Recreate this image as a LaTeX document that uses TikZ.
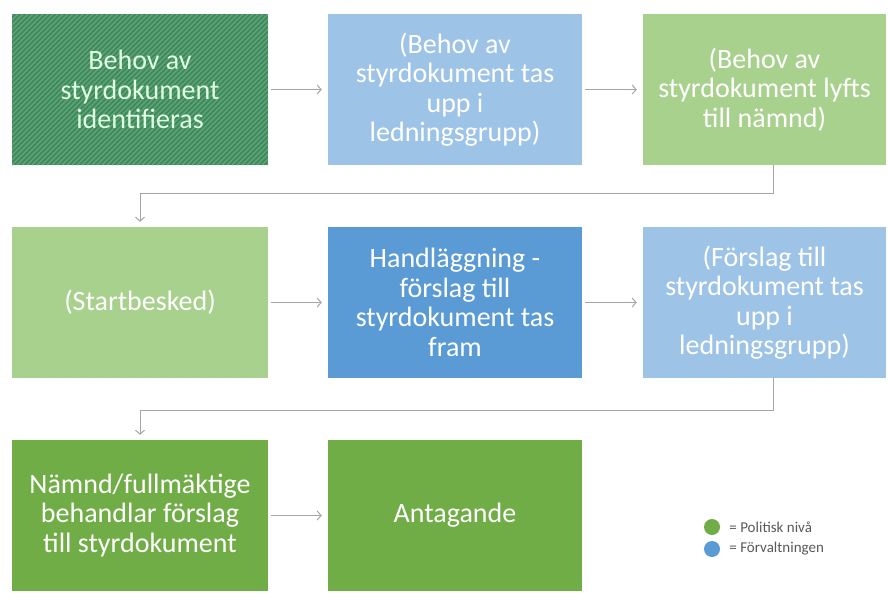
\documentclass[tikz,border=0pt]{standalone}
\usepackage{fontspec}
\setmainfont{Carlito}
\usetikzlibrary{arrows.meta}
\definecolor{dkgreen}{HTML}{3E8A5B}
\definecolor{hatchgreen}{HTML}{63A67B}
\definecolor{ltblue}{HTML}{9DC3E6}
\definecolor{ltgreen}{HTML}{A9D18E}
\definecolor{midblue}{HTML}{5B9BD5}
\definecolor{polgreen}{HTML}{70AD47}
\definecolor{conncol}{HTML}{A6A6A6}
\definecolor{legtext}{HTML}{595959}
\begin{document}
\begin{tikzpicture}[x=1pt,y=-1pt,
  box/.style={rectangle, inner sep=0pt, minimum height=151pt, align=center,
    text=white, font=\fontsize{28}{29.5}\selectfont},
  arr/.style={draw=conncol, line width=1pt, -{Straight Barb[length=4pt,width=9pt]}},
  conn/.style={draw=conncol, line width=1pt},
  legdot/.style={circle, inner sep=0pt, minimum size=16pt},
  legtxt/.style={anchor=west, inner sep=0pt, text=legtext, font=\fontsize{15}{17}\selectfont}]
\useasboundingbox (0,0) rectangle (888,592);
\fill[white] (0,0) rectangle (888,592);
% row 1
\node[box, minimum width=256pt, fill=dkgreen, text=white!88!green,
  path picture={\foreach \k in {-170,-165,...,260}
    \draw[hatchgreen, line width=1.2pt] ([xshift=\k pt]path picture bounding box.south west) -- ++(170pt,170pt);}]
  (b1) at (140,89.5) {Behov av\\styrdokument\\identifieras};
\node[box, minimum width=254pt, fill=ltblue] (b2) at (455,89.5) {(Behov av\\styrdokument tas\\upp i\\ledningsgrupp)};
\node[box, minimum width=243pt, fill=ltgreen] (b3) at (764.5,89.5) {(Behov av\\styrdokument lyfts\\till nämnd)};
% row 2
\node[box, minimum width=256pt, fill=ltgreen] (b4) at (140,302.5) {(Startbesked)};
\node[box, minimum width=254pt, fill=midblue] (b5) at (455,302.5) {Handläggning -\\förslag till\\styrdokument tas\\fram};
\node[box, minimum width=243pt, fill=ltblue] (b6) at (764.5,302.5) {(Förslag till\\styrdokument tas\\upp i\\ledningsgrupp)};
% row 3
\node[box, minimum width=256pt, fill=polgreen] (b7) at (140,515.5) {Nämnd/fullmäktige\\behandlar förslag\\till styrdokument};
\node[box, minimum width=254pt, fill=polgreen] (b8) at (455,515.5) {Antagande};
% connectors
\draw[arr, shorten <=3pt, shorten >=6pt] (b1) -- (b2);
\draw[arr, shorten <=3pt, shorten >=6pt] (b2) -- (b3);
\draw[arr, shorten <=3pt, shorten >=6pt] (b4) -- (b5);
\draw[arr, shorten <=3pt, shorten >=6pt] (b5) -- (b6);
\draw[arr, shorten <=3pt, shorten >=6pt] (b7) -- (b8);
\coordinate (e1) at (773,193);
\coordinate (e2) at (773,410);
\draw[arr, shorten >=5pt] (b3.south -| e1) -- (e1) -- (e1 -| b4) -- (b4.north);
\draw[arr, shorten >=5pt] (b6.south -| e2) -- (e2) -- (e2 -| b7) -- (b7.north);
% legend
\node[legdot, fill=polgreen] (d1) at (712,527) {};
\node[legdot, fill=midblue] (d2) at (712,549) {};
\node[legtxt] (l1) at ([xshift=9pt]d1.east) {= Politisk nivå};
\node[legtxt] (l2) at ([xshift=9pt]d2.east) {= Förvaltningen};
\end{tikzpicture}
\end{document}
